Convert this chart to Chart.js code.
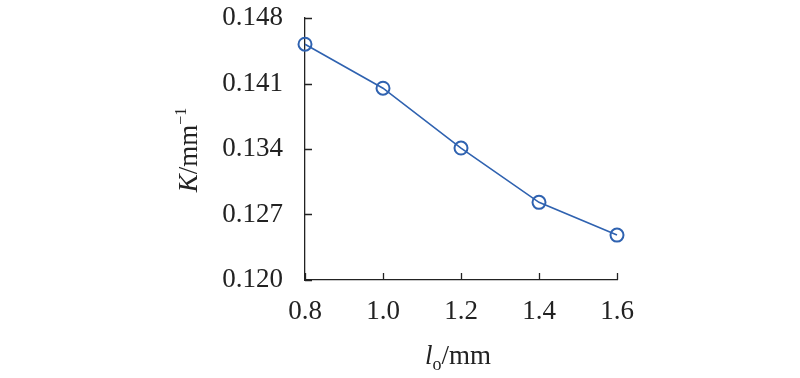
<!DOCTYPE html>
<html>
<head>
<meta charset="utf-8">
<script src="https://cdn.jsdelivr.net/npm/chart.js@4/dist/chart.umd.min.js"></script>
<style>
  html, body { margin: 0; padding: 0; background: #fff; }
  #wrap { width: 800px; height: 378px; }
</style>
</head>
<body>
<div id="wrap"><canvas id="chart"></canvas></div>
<script>
// data
const lengths = [0.8, 1.0, 1.2, 1.4, 1.6];
const kValues = [0.1452, 0.1405, 0.1341, 0.1283, 0.1248];
const xTicks = [0.8, 1.0, 1.2, 1.4, 1.6];
const yTicks = [0.120, 0.127, 0.134, 0.141, 0.148];

const blue = '#2f62b0';
const serif = '"Liberation Serif", "Times New Roman", serif';

// inward tick marks + axis titles with italic / sub / superscript parts
const extras = {
  id: 'extras',
  afterDraw(chart) {
    const { ctx, chartArea: a, scales: { x, y } } = chart;
    ctx.save();
    ctx.strokeStyle = '#222';
    ctx.lineWidth = 1.3;
    ctx.beginPath();
    xTicks.forEach(v => {
      const px = Math.round(x.getPixelForValue(v)) + 0.5;
      ctx.moveTo(px, a.bottom);
      ctx.lineTo(px, a.bottom - 7);
    });
    yTicks.forEach(v => {
      const py = Math.round(y.getPixelForValue(v)) + 0.5;
      ctx.moveTo(a.left, py);
      ctx.lineTo(a.left + 7, py);
    });
    ctx.stroke();

    ctx.fillStyle = '#222';
    ctx.textBaseline = 'alphabetic';

    // x title: l_o/mm
    const xParts = [
      { t: 'l', f: 'italic 27px ' + serif, dy: 0 },
      { t: 'o', f: '18px ' + serif, dy: 6 },
      { t: '/mm', f: '27px ' + serif, dy: 0 }
    ];
    let w = 0;
    xParts.forEach(p => { ctx.font = p.f; w += ctx.measureText(p.t).width; });
    let cx = 458 - w / 2;
    xParts.forEach(p => {
      ctx.font = p.f;
      ctx.fillText(p.t, cx, 364 + p.dy);
      cx += ctx.measureText(p.t).width;
    });

    // y title: K/mm^-1
    ctx.translate(197, 150);
    ctx.rotate(-Math.PI / 2);
    const yParts = [
      { t: 'K', f: 'italic 27px ' + serif, dy: 0 },
      { t: '/mm', f: '27px ' + serif, dy: 0 },
      { t: '\u22121', f: '16px ' + serif, dy: -11 }
    ];
    w = 0;
    yParts.forEach(p => { ctx.font = p.f; w += ctx.measureText(p.t).width; });
    cx = -w / 2;
    yParts.forEach(p => {
      ctx.font = p.f;
      ctx.fillText(p.t, cx, p.dy);
      cx += ctx.measureText(p.t).width;
    });
    ctx.restore();
  }
};

new Chart(document.getElementById('chart'), {
  type: 'line',
  data: {
    datasets: [{
      data: lengths.map((l, i) => ({ x: l, y: kValues[i] })),
      borderColor: blue,
      borderWidth: 1.6,
      pointStyle: 'circle',
      pointRadius: 6.5,
      pointBorderWidth: 2,
      pointBackgroundColor: 'rgba(255,255,255,0)',
      pointBorderColor: blue,
      tension: 0,
      clip: false
    }]
  },
  options: {
    responsive: true,
    maintainAspectRatio: false,
    animation: false,
    layout: { padding: { left: 0, right: 183, top: 18, bottom: 0 } },
    plugins: { legend: { display: false }, tooltip: { enabled: false } },
    scales: {
      x: {
        type: 'linear',
        min: 0.8,
        max: 1.6,
        afterBuildTicks: s => { s.ticks = xTicks.map(v => ({ value: v })); },
        afterFit: s => { s.height = 98; s.paddingLeft = 0; s.paddingRight = 0; },
        ticks: {
          color: '#222',
          font: { family: serif, size: 27 },
          padding: 16,
          maxRotation: 0,
          callback: v => v.toFixed(1)
        },
        grid: { drawOnChartArea: false, drawTicks: false },
        border: { color: '#222', width: 1.3 }
      },
      y: {
        min: 0.120,
        max: 0.148,
        afterBuildTicks: s => { s.ticks = yTicks.map(v => ({ value: v })); },
        afterFit: s => { s.width = 305; s.paddingTop = 0; s.paddingBottom = 0; },
        ticks: {
          color: '#222',
          font: { family: serif, size: 27 },
          padding: 22,
          callback: v => v.toFixed(3)
        },
        grid: { drawOnChartArea: false, drawTicks: false },
        border: { color: '#222', width: 1.3 }
      }
    }
  },
  plugins: [extras]
});
</script>
</body>
</html>
